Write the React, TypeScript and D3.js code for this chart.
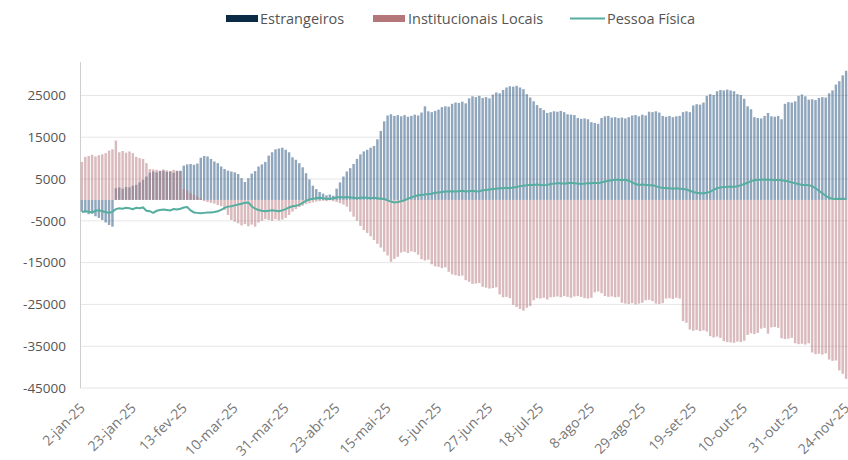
import { useRef, useEffect } from 'react'
import * as d3 from 'd3'

// net flows (R$ mi), one value per trading day from 2-jan-25 to 24-nov-25
const estrangeiros = [
  -2800, -3000, -3400, -3300, -3900, -4300, -4800, -5400, -6000, -6400,
  2800, 3000, 2700, 3100, 3000, 3400, 3600, 4200, 4800, 5600,
  6500, 6800, 6600, 6900, 7000, 6700, 6800, 6500, 6900, 7000,
  8200, 8500, 8600, 8400, 8700, 10100, 10500, 10400, 9800, 9200,
  8800, 8000, 7400, 7000, 6800, 6600, 6200, 5200, 4300, 5200,
  6300, 6900, 8000, 8500, 9100, 10600, 11400, 12100, 12300, 12500,
  12000, 11400, 10200, 9600, 8800, 7800, 6400, 4900, 3400, 2600,
  1900, 1500, 1100, 1300, 1000, 2700, 4200, 5600, 6800, 7600,
  8600, 9800, 10900, 11600, 12000, 12500, 12900, 14500, 16500, 18800,
  20200, 20500, 20100, 20300, 20000, 20300, 19900, 20100, 20400, 20200,
  20900, 22400, 21200, 21000, 21300, 21600, 22200, 22400, 22300, 23000,
  23300, 23200, 23500, 23100, 24300, 24800, 24600, 24900, 24400, 24600,
  24300, 25200, 25700, 25500, 26300, 26900, 27200, 27100, 27300, 26900,
  26500, 25300, 24500, 23600, 22700, 22000, 21500, 20800, 21000, 21200,
  21100, 21300, 21000, 20500, 20400, 20300, 19600, 19400, 19500, 19300,
  18600, 18400, 18200, 19600, 20000, 20100, 19700, 19800, 19600, 19700,
  19500, 19800, 20200, 20300, 20000, 20400, 20200, 21100, 21000, 21200,
  20900, 20100, 19900, 20100, 19800, 20000, 20100, 21000, 21200, 21000,
  22600, 22900, 22800, 23300, 24900, 25300, 25100, 26000, 26300, 26200,
  26400, 26200, 26000, 25300, 25100, 24200, 22400, 21700, 19800, 19600,
  19500, 20100, 20800, 20000, 19900, 20100, 19300, 23000, 23400, 23300,
  23600, 24900, 25200, 24800, 24000, 24100, 23900, 24400, 24600, 24500,
  25500, 26200, 27600, 28400, 29800, 30900
]

const institucionais = [
  9100, 10300, 10500, 10800, 10400, 10700, 10900, 11200, 11800, 12100,
  14200, 11400, 11700, 11300, 11600, 11200, 10300, 10000, 9800, 8800,
  7400, 7300, 7200, 7000, 7300, 7100, 6900, 7200, 7000, 6800,
  2600, 2200, 1600, 1200, 800, 400, -300, -500, -700, -900,
  -1200, -1500, -2400, -3600, -4800, -5200, -5600, -6100, -5800, -6300,
  -5900, -6400, -5400, -5000, -4600, -4800, -5000, -4600, -4900, -4700,
  -4300, -3600, -2800, -2200, -1700, -1400, -1000, -800, -600, -400,
  -300, -200, -300, -100, -300, -500, -800, -1100, -1600, -2800,
  -4000, -5000, -6200, -7200, -7900, -8700, -9600, -10500, -11400, -12400,
  -13300, -14800, -14100, -13600, -12600, -12400, -12700, -12300, -12500, -13100,
  -14200, -14500, -14300, -15400, -15900, -16000, -16300, -16100, -17200, -17800,
  -18000, -18200, -18100, -19200, -19600, -20100, -20000, -19900, -20800, -21000,
  -21200, -21100, -20900, -22600, -23300, -23200, -23500, -25100, -25600, -26100,
  -26500, -25800, -25400, -24000, -23500, -23600, -23400, -23800, -23300, -23200,
  -23100, -23300, -23000, -23200, -23400, -23100, -23000, -23200, -23500, -23600,
  -23400, -22100, -21900, -22300, -23000, -23200, -23100, -23300, -23200, -24600,
  -24800, -24900, -24700, -25000, -24800, -24600, -24000, -23900, -24200, -24800,
  -24900, -24700, -23600, -23500, -23700, -23400, -23600, -29000, -29400, -31000,
  -31300, -31100, -31400, -31200, -31500, -32600, -32900, -32700, -33000, -33800,
  -34000, -34100, -34200, -33900, -34000, -33700, -32300, -31900, -32100, -31800,
  -30800, -30600, -32000, -30500, -30400, -30600, -33100, -33300, -33200, -33000,
  -34300, -34500, -34400, -34600, -34300, -36500, -36900, -36800, -37000, -36700,
  -38200, -38500, -38400, -40800, -41600, -42800
]

const pessoaFisica = [
  -2900, -2700, -2800, -3000, -2600, -2500, -2700, -2900, -3100, -2800,
  -2200, -2000, -2100, -1900, -2000, -2200, -1900, -2000, -1800, -2600,
  -2700, -3100, -2600, -2400, -2300, -2400, -2500, -2200, -2300, -2100,
  -1800, -1700, -2500, -3000, -3100, -3200, -3100, -3000, -3000, -2900,
  -2700, -2400, -1900, -1600, -1500, -1300, -1100, -900, -700, -600,
  -1500, -2100, -2400, -2600, -2700, -2600, -2500, -2600, -2700, -2500,
  -2200, -1800, -1500, -1400, -1200, -700, -200, 100, 300, 400,
  500, 400, 300, 200, 400, 600, 700, 600, 700, 600,
  500, 400, 500, 600, 500, 400, 500, 400, 300, 200,
  -100, -400, -600, -500, -300, -100, 300, 600, 900, 1100,
  1200, 1300, 1400, 1500, 1700, 1800, 1900, 2000, 2000, 2100,
  2000, 2100, 2200, 2000, 2100, 2200, 2000, 2100, 2300, 2400,
  2500, 2600, 2700, 2800, 2800, 2900, 2800, 3000, 3100, 3300,
  3400, 3500, 3600, 3600, 3700, 3600, 3500, 3600, 3800, 3900,
  4000, 4000, 3900, 4000, 4100, 4000, 3900, 3800, 3900, 4000,
  4000, 4100, 4000, 4200, 4400, 4600, 4700, 4800, 4800, 4700,
  4800, 4600, 4200, 3800, 3600, 3700, 3600, 3500, 3500, 3300,
  3000, 2900, 2800, 2800, 2700, 2800, 2700, 2600, 2500, 2200,
  1900, 1700, 1600, 1600, 1700, 2000, 2400, 2800, 3000, 3100,
  3100, 3200, 3100, 3300, 3500, 3800, 4100, 4500, 4700, 4800,
  4800, 4900, 4800, 4800, 4700, 4800, 4700, 4600, 4400, 4200,
  4000, 3800, 3600, 3600, 3500, 3300, 2800, 2200, 1600, 1000,
  500, 300, 200, 300, 200, 300
]

// one label every 15 trading days
const tickLabels = [
  '2-jan-25', '23-jan-25', '13-fev-25', '10-mar-25', '31-mar-25', '23-abr-25',
  '15-mai-25', '5-jun-25', '27-jun-25', '18-jul-25', '8-ago-25', '29-ago-25',
  '19-set-25', '10-out-25', '31-out-25', '24-nov-25'
]
const yTicks = [25000, 15000, 5000, -5000, -15000, -25000, -35000, -45000]

const COLOR_EST = '#1f4e79'
const COLOR_INST = '#b5767a'
const COLOR_PF = '#55ae9f'
const FONT = '"Open Sans", "DejaVu Sans", sans-serif'

export default function App() {
  const svgRef = useRef<SVGSVGElement>(null)
  const width = 848
  const height = 460
  const margin = { top: 62, right: 0, bottom: 72, left: 80 }

  useEffect(() => {
    if (!svgRef.current) return
    const svg = d3.select(svgRef.current)
    svg.selectAll('*').remove()

    const n = estrangeiros.length
    const x = d3.scaleBand<number>()
      .domain(d3.range(n))
      .range([margin.left, width - margin.right])
      .paddingInner(0.28)
      .paddingOuter(0.2)

    const y = d3.scaleLinear()
      .domain([-45000, 33000])
      .range([height - margin.bottom, margin.top])

    // gridlines
    svg.append('g')
      .selectAll('line')
      .data(yTicks)
      .enter()
      .append('line')
      .attr('x1', margin.left)
      .attr('x2', width)
      .attr('y1', d => y(d))
      .attr('y2', d => y(d))
      .attr('stroke', '#e6e6e6')
      .attr('stroke-width', 1)

    // y axis line
    svg.append('line')
      .attr('x1', margin.left + 0.5)
      .attr('x2', margin.left + 0.5)
      .attr('y1', margin.top)
      .attr('y2', height - margin.bottom)
      .attr('stroke', '#cfcfcf')

    // y labels
    svg.append('g')
      .selectAll('text')
      .data(yTicks)
      .enter()
      .append('text')
      .attr('x', 66)
      .attr('y', d => y(d))
      .attr('dy', '0.35em')
      .attr('text-anchor', 'end')
      .attr('font-family', FONT)
      .attr('font-size', 13.5)
      .attr('fill', '#555')
      .text(d => String(d))

    const bar = (vals: number[], color: string, opacity: number) => {
      svg.append('g')
        .selectAll('rect')
        .data(vals)
        .enter()
        .append('rect')
        .attr('x', (_, i) => x(i) || 0)
        .attr('width', x.bandwidth())
        .attr('y', d => y(Math.max(0, d)))
        .attr('height', d => Math.abs(y(d) - y(0)))
        .attr('fill', color)
        .attr('fill-opacity', opacity)
    }
    bar(estrangeiros, COLOR_EST, 0.5)
    bar(institucionais, COLOR_INST, 0.5)

    // Pessoa Fisica line
    const line = d3.line<number>()
      .x((_, i) => (x(i) || 0) + x.bandwidth() / 2)
      .y(d => y(d))
    svg.append('path')
      .datum(pessoaFisica)
      .attr('d', line)
      .attr('fill', 'none')
      .attr('stroke', COLOR_PF)
      .attr('stroke-width', 2)

    // x labels
    svg.append('g')
      .selectAll('text')
      .data(tickLabels)
      .enter()
      .append('text')
      .attr('transform', (_, k) => {
        const cx = (x(k * 15) || 0) + x.bandwidth() / 2
        return `translate(${cx + 4},${height - margin.bottom + 21}) rotate(-45)`
      })
      .attr('text-anchor', 'end')
      .attr('font-family', FONT)
      .attr('font-size', 14)
      .attr('fill', '#777')
      .text(d => d)

    // legend
    const legend = svg.append('g').attr('font-family', FONT).attr('font-size', 14.5).attr('fill', '#555')
    legend.append('rect').attr('x', 226).attr('y', 15).attr('width', 32).attr('height', 7).attr('fill', '#0b2a45')
    legend.append('text').attr('x', 260).attr('y', 23.5).text('Estrangeiros')
    legend.append('rect').attr('x', 373).attr('y', 15).attr('width', 32).attr('height', 7).attr('fill', COLOR_INST)
    legend.append('text').attr('x', 408).attr('y', 23.5).text('Institucionais Locais')
    legend.append('line').attr('x1', 570).attr('x2', 605).attr('y1', 18.5).attr('y2', 18.5)
      .attr('stroke', COLOR_PF).attr('stroke-width', 2)
    legend.append('text').attr('x', 607).attr('y', 23.5).text('Pessoa Física')
  }, [])

  return (
    <svg
      ref={svgRef}
      width={width}
      height={height}
      style={{ position: 'absolute', left: 0, top: 0, background: '#fff' }}
    />
  )
}
